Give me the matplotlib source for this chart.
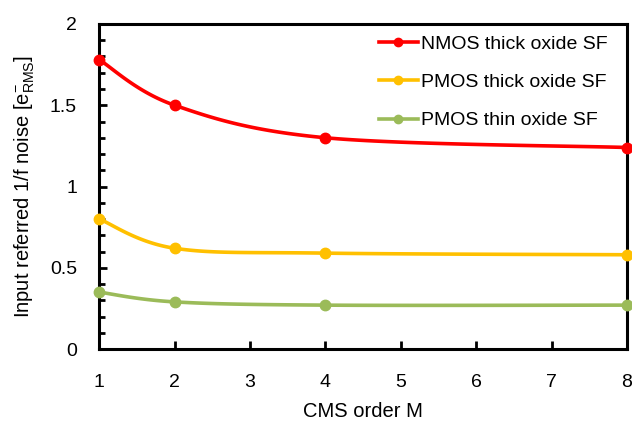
import numpy as np
import matplotlib
matplotlib.use("Agg")
import matplotlib.pyplot as plt
from matplotlib.ticker import MultipleLocator

plt.rcParams['font.family'] = ['Liberation Sans', 'DejaVu Sans']
plt.rcParams['mathtext.fontset'] = 'custom'
plt.rcParams['mathtext.rm'] = 'Liberation Sans'
plt.rcParams['mathtext.it'] = 'Liberation Sans'

# data
cms_order = [1, 2, 4, 8]
nmos_thick = [1.78, 1.50, 1.30, 1.24]
pmos_thick = [0.80, 0.62, 0.59, 0.58]
pmos_thin = [0.35, 0.29, 0.27, 0.27]
labels = ['NMOS thick oxide SF', 'PMOS thick oxide SF', 'PMOS thin oxide SF']
colors = ['#FF0000', '#FFC000', '#9BBB59']


def smooth(x, y, n=40):
    # excel style smoothed line: bezier segments through the points
    x = np.asarray(x, float)
    y = np.asarray(y, float)
    px = np.concatenate([[x[0]], x, [x[-1]]])
    py = np.concatenate([[y[0]], y, [y[-1]]])
    xs, ys = [], []
    t = np.linspace(0, 1, n)
    for i in range(1, len(px) - 2):
        p0 = np.array([px[i], py[i]])
        p3 = np.array([px[i + 1], py[i + 1]])
        p1 = p0 + (np.array([px[i + 1], py[i + 1]]) - np.array([px[i - 1], py[i - 1]])) / 6
        p2 = p3 - (np.array([px[i + 2], py[i + 2]]) - np.array([px[i], py[i]])) / 6
        b = ((1 - t) ** 3)[:, None] * p0 + (3 * (1 - t) ** 2 * t)[:, None] * p1 \
            + (3 * (1 - t) * t ** 2)[:, None] * p2 + (t ** 3)[:, None] * p3
        xs.extend(b[:, 0])
        ys.extend(b[:, 1])
    return xs, ys


fs = 14

fig = plt.figure(figsize=(6.32, 4.21), dpi=100)
ax = fig.add_axes([0.157, 0.171, 0.835, 0.772])

for vals, lab, c in zip([nmos_thick, pmos_thick, pmos_thin], labels, colors):
    sx, sy = smooth(cms_order, vals)
    ax.plot(sx, sy, color=c, lw=2.6, solid_capstyle='round', zorder=3)
    ax.plot(cms_order, vals, 'o', color=c, ms=7.5, zorder=4, clip_on=False)
    ax.plot([], [], '-o', color=c, lw=2.6, ms=6, label=lab)

ax.set_xlim(1, 8)
ax.set_ylim(0, 2)
ax.xaxis.set_major_locator(MultipleLocator(1))
ax.yaxis.set_major_locator(MultipleLocator(0.5))
ax.yaxis.set_minor_locator(MultipleLocator(0.1))
ax.yaxis.set_major_formatter(plt.FuncFormatter(lambda v, p: '%g' % v))
ax.tick_params(axis='both', which='major', direction='in', length=6, width=2,
               labelsize=fs)
ax.tick_params(axis='y', which='minor', direction='in', length=4, width=2)
ax.tick_params(axis='y', which='major', pad=16)
ax.tick_params(axis='x', which='major', pad=18)
for s in ax.spines.values():
    s.set_linewidth(2.2)

ax.set_xlabel('CMS order M', fontsize=fs + 0.5, labelpad=8)
ax.set_ylabel(r'Input referred 1/f noise [e$^{-}_{\mathrm{RMS}}$]', fontsize=fs + 0.5, labelpad=9)

leg = ax.legend(loc='upper right', bbox_to_anchor=(0.985, 1.0), frameon=False,
                fontsize=fs, handlelength=2.0, handletextpad=0.15,
                labelspacing=1.05, borderaxespad=0.2)

fig.savefig('out.png', dpi=100)
